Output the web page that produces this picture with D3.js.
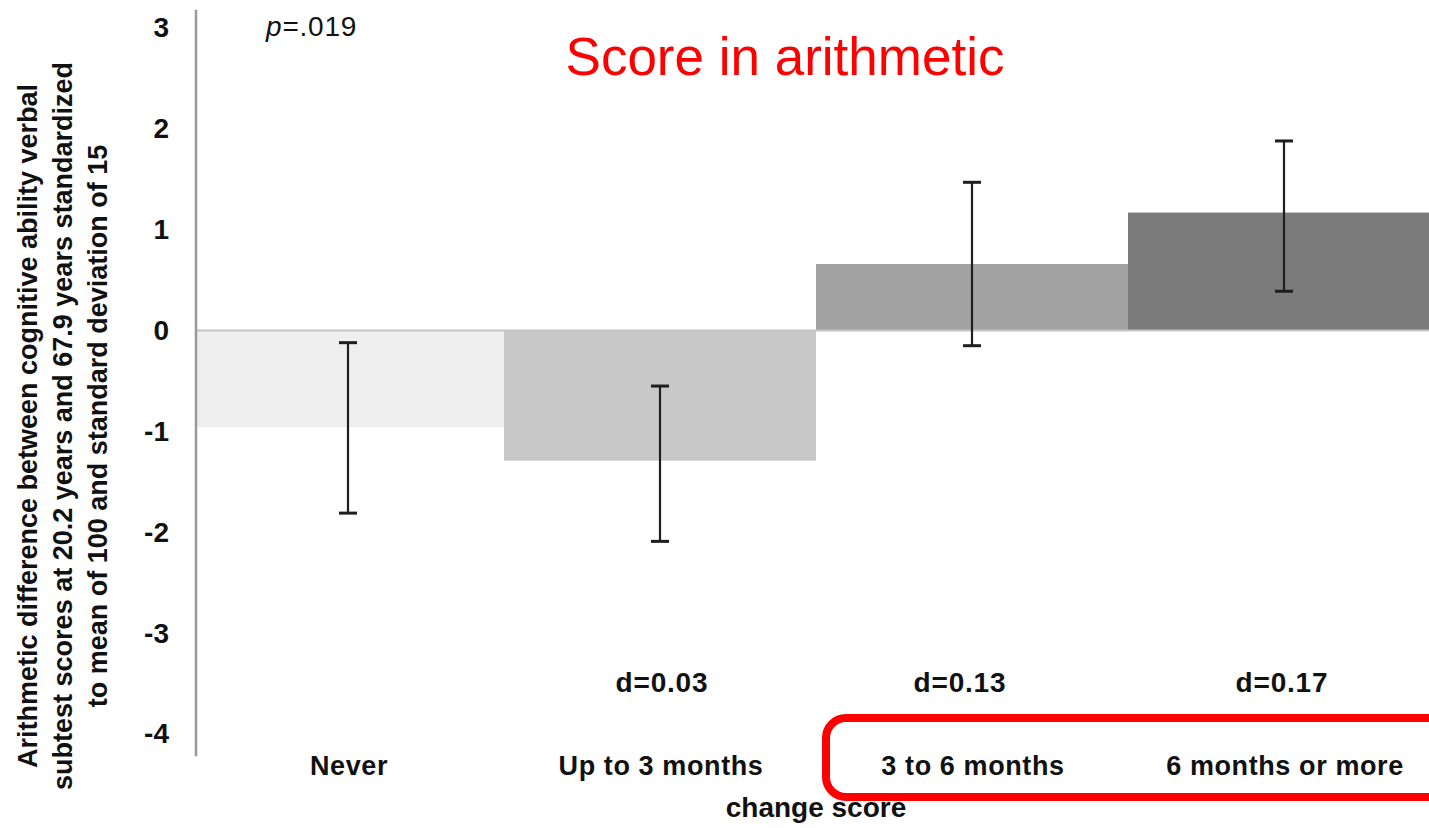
<!DOCTYPE html>
<html><head><meta charset="utf-8">
<script src="https://cdn.jsdelivr.net/npm/d3@7"></script>
<style>
html,body{margin:0;padding:0;background:#fff;}
svg{display:block;font-family:"Liberation Sans",Arial,sans-serif;}
</style></head>
<body>
<svg id="chart" width="1429" height="828"></svg>
<script>
const categories = ["Never", "Up to 3 months", "3 to 6 months", "6 months or more"];
const means = [-0.96, -1.29, 0.66, 1.17];
const errLow = [-1.81, -2.09, -0.15, 0.39];
const errHigh = [-0.12, -0.55, 1.47, 1.88];
const effectLabels = ["", "d=0.03", "d=0.13", "d=0.17"];
const barColors = ["#efefef", "#c8c8c8", "#a2a2a2", "#7b7b7b"];
const yTicks = [3, 2, 1, 0, -1, -2, -3, -4];
const yTitleLines = [
  "Arithmetic difference between cognitive ability verbal",
  "subtest scores at 20.2 years and 67.9 years standardized",
  "to mean of 100 and standard deviation of 15"
];
const titleText = "Score in arithmetic";
const pText = ["p", "=.019"];
const xTitle = "change score";

const svg = d3.select("#chart");
const x = d3.scaleBand().domain(categories).range([192, 1440]).padding(0);
const y = d3.scaleLinear().domain([-4, 3]).range([734, 28]);
const cx = d => x(d) + x.bandwidth() / 2;

// bars
svg.append("g").selectAll("rect").data(categories).join("rect")
  .attr("x", d => Math.max(x(d), 196))
  .attr("width", d => x(d) + x.bandwidth() - Math.max(x(d), 196))
  .attr("y", (d, i) => y(Math.max(0, means[i])))
  .attr("height", (d, i) => Math.abs(y(means[i]) - y(0)))
  .attr("fill", (d, i) => barColors[i]);

// zero line
svg.append("line")
  .attr("x1", 196).attr("x2", 1429)
  .attr("y1", y(0)).attr("y2", y(0))
  .attr("stroke", "#c4c4c4").attr("stroke-width", 2);

// y axis
const yAxis = d3.axisLeft(y).tickValues(yTicks).tickSize(0).tickPadding(27).tickFormat(d3.format("d"));
const gy = svg.append("g").attr("transform", "translate(196,0)").call(yAxis);
gy.select(".domain").remove();
gy.append("line").attr("x1", 0).attr("x2", 0)
  .attr("y1", y(3.18)).attr("y2", y(-4.22))
  .attr("stroke", "#9a9a9a").attr("stroke-width", 2.5);
gy.selectAll(".tick text")
  .attr("font-family", "'Liberation Sans',Arial,sans-serif")
  .attr("font-size", 28).attr("font-weight", "bold").attr("fill", "#111")
  .text(d => d < 0 ? "-" + Math.abs(d) : d);

// error bars
const eb = svg.append("g").attr("stroke", "#1e1e1e");
categories.forEach((c, i) => {
  const px = cx(c);
  eb.append("line").attr("x1", px).attr("x2", px)
    .attr("y1", y(errHigh[i])).attr("y2", y(errLow[i])).attr("stroke-width", 2.2);
  [errHigh[i], errLow[i]].forEach(v => {
    eb.append("line").attr("x1", px - 9).attr("x2", px + 9)
      .attr("y1", y(v)).attr("y2", y(v)).attr("stroke-width", 3);
  });
});

// category labels
svg.append("g").selectAll("text").data(categories).join("text")
  .attr("x", d => cx(d) + 1)
  .attr("y", 775)
  .attr("text-anchor", "middle")
  .attr("font-size", 27).attr("font-weight", "bold").attr("fill", "#111")
  .attr("letter-spacing", 0.6)
  .text(d => d);

// effect size labels
const dOffsets = [0, 2, -12, -2];
svg.append("g").selectAll("text").data(categories).join("text")
  .attr("x", (d, i) => cx(d) + dOffsets[i])
  .attr("y", 692)
  .attr("text-anchor", "middle")
  .attr("font-size", 28).attr("font-weight", "bold").attr("fill", "#111")
  .attr("letter-spacing", 0.8)
  .text((d, i) => effectLabels[i]);

// x title
svg.append("text").attr("x", 816).attr("y", 817).attr("text-anchor", "middle")
  .attr("font-size", 28).attr("font-weight", "bold").attr("fill", "#111").text(xTitle);

// y title
const yt = svg.append("text").attr("transform", "translate(0,426) rotate(-90)")
  .attr("text-anchor", "middle").attr("font-size", 27).attr("font-weight", "bold").attr("fill", "#111");
yTitleLines.forEach((t, i) => {
  yt.append("tspan").attr("x", 0).attr("y", 37 + i * 35).text(t);
});

// p value
const pt = svg.append("text").attr("x", 266).attr("y", 36)
  .attr("font-size", 28).attr("fill", "#111").attr("letter-spacing", 0.8);
pt.append("tspan").attr("font-style", "italic").text(pText[0]);
pt.append("tspan").text(pText[1]);

// title
svg.append("text").attr("x", 785).attr("y", 75).attr("text-anchor", "middle")
  .attr("font-size", 53).attr("fill", "#ff0000").text(titleText);

// red highlight box
svg.append("rect")
  .attr("x", x(categories[2]) + 10).attr("y", 718)
  .attr("width", 640).attr("height", 79)
  .attr("rx", 20).attr("ry", 20)
  .attr("fill", "none").attr("stroke", "#ff0000").attr("stroke-width", 8);
</script>
</body></html>
